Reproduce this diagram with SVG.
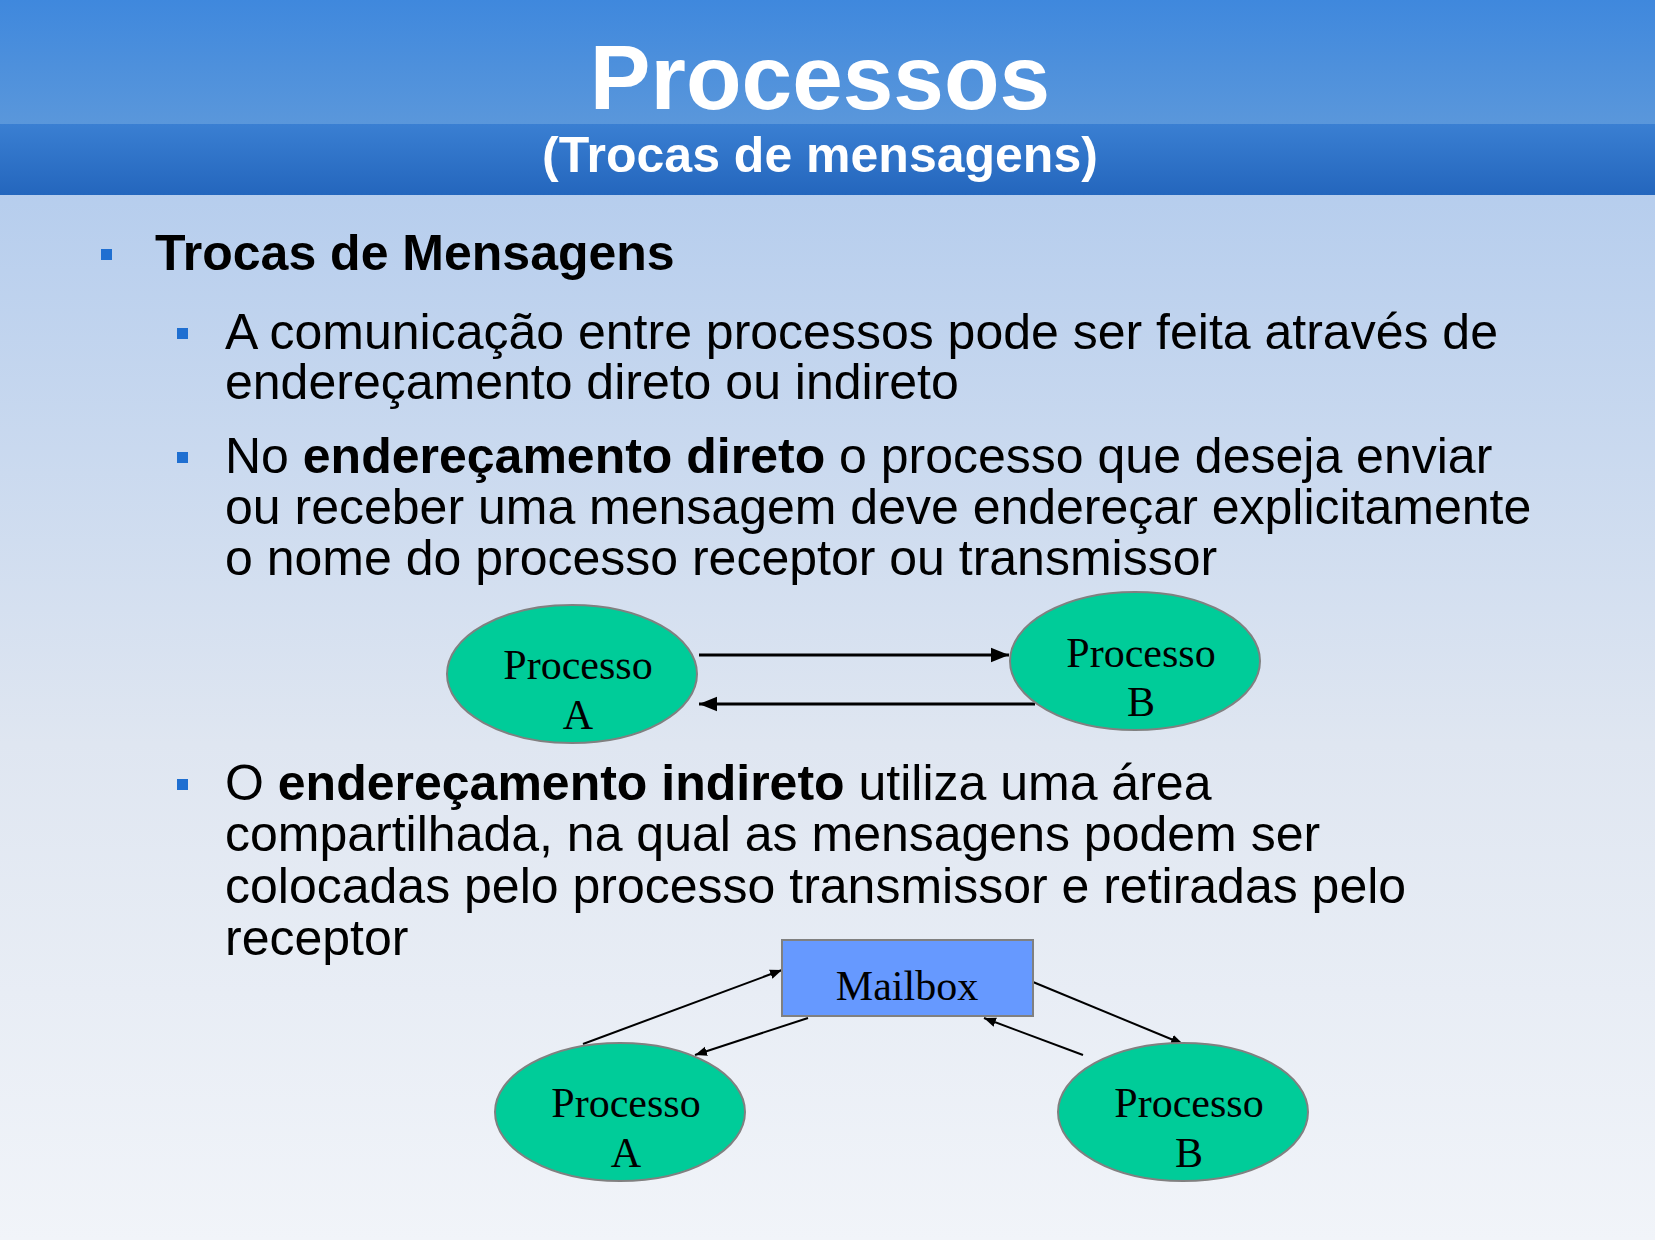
<svg xmlns="http://www.w3.org/2000/svg" width="1655" height="1240" viewBox="0 0 1655 1240">
<defs>
<linearGradient id="bg" x1="0" y1="0" x2="0" y2="1"><stop offset="0" stop-color="#a8c5ec"/><stop offset="0.6" stop-color="#dfe6f1"/><stop offset="1" stop-color="#f1f4f9"/></linearGradient>
<linearGradient id="h1" x1="0" y1="0" x2="0" y2="1"><stop offset="0" stop-color="#3f88dd"/><stop offset="1" stop-color="#5a97db"/></linearGradient>
<linearGradient id="h2" x1="0" y1="0" x2="0" y2="1"><stop offset="0" stop-color="#3a7fd2"/><stop offset="1" stop-color="#2466bd"/></linearGradient>
<marker id="ar" viewBox="0 0 10 10" refX="10" refY="5" markerWidth="6" markerHeight="6" orient="auto"><path d="M0,1 L10,5 L0,9 z" fill="#000"/></marker>
</defs>
<style>
.t{font-family:"Liberation Sans",Arial,sans-serif;fill:#000;font-size:50px}
.s{font-family:"Liberation Serif","Times New Roman",serif;fill:#000;font-size:42px;text-anchor:middle}
.e{fill:#00cc99;stroke:#808080;stroke-width:2}
.c{stroke:#000;fill:none;marker-end:url(#ar)}
.b{fill:#1f6fd1}
</style>
<rect width="1655" height="1240" fill="url(#bg)"/>
<rect width="1655" height="124" fill="url(#h1)"/>
<rect y="124" width="1655" height="71" fill="url(#h2)"/>
<text x="820" y="109" text-anchor="middle" font-family="Liberation Sans,Arial,sans-serif" font-weight="bold" font-size="91" fill="#fff">Processos</text>
<text x="820" y="172" text-anchor="middle" font-family="Liberation Sans,Arial,sans-serif" font-weight="bold" font-size="50" fill="#fff">(Trocas de mensagens)</text>
<rect class="b" x="101" y="249" width="11" height="11"/>
<text class="t" x="155" y="270" font-weight="bold">Trocas de Mensagens</text>
<rect class="b" x="177" y="328" width="11" height="11"/>
<text class="t" x="225" y="349">A comunicação entre processos pode ser feita através de</text>
<text class="t" x="225" y="399">endereçamento direto ou indireto</text>
<rect class="b" x="177" y="452" width="11" height="11"/>
<text class="t" x="225" y="473">No <tspan font-weight="bold">endereçamento direto</tspan> o processo que deseja enviar</text>
<text class="t" x="225" y="524">ou receber uma mensagem deve endereçar explicitamente</text>
<text class="t" x="225" y="575">o nome do processo receptor ou transmissor</text>
<rect class="b" x="177" y="779" width="11" height="11"/>
<text class="t" x="225" y="800">O <tspan font-weight="bold">endereçamento indireto</tspan> utiliza uma área</text>
<text class="t" x="225" y="851">compartilhada, na qual as mensagens podem ser</text>
<text class="t" x="225" y="903">colocadas pelo processo transmissor e retiradas pelo</text>
<text class="t" x="225" y="955">receptor</text>
<g id="connectors">
<line class="c" x1="699" y1="655" x2="1009" y2="655" stroke-width="3"/>
<line class="c" x1="1035" y1="704" x2="699" y2="704" stroke-width="3"/>
<line class="c" x1="583" y1="1044" x2="782" y2="970" stroke-width="2"/>
<line class="c" x1="808" y1="1018" x2="695" y2="1055" stroke-width="2"/>
<line class="c" x1="1033" y1="982" x2="1183" y2="1044" stroke-width="2"/>
<line class="c" x1="1083" y1="1055" x2="984" y2="1018" stroke-width="2"/>
</g>
<g id="pa1"><ellipse class="e" cx="572" cy="674" rx="125" ry="69"/><text class="s" x="578" y="679">Processo</text><text class="s" x="578" y="729">A</text></g>
<g id="pb1"><ellipse class="e" cx="1135" cy="661" rx="125" ry="69"/><text class="s" x="1141" y="667">Processo</text><text class="s" x="1141" y="716">B</text></g>
<g id="mailbox"><rect x="782" y="940" width="251" height="76" fill="#6699ff" stroke="#808080" stroke-width="2"/><text class="s" x="907" y="1000" font-size="62">Mailbox</text></g>
<g id="pa2"><ellipse class="e" cx="620" cy="1112" rx="125" ry="69"/><text class="s" x="626" y="1117">Processo</text><text class="s" x="626" y="1167">A</text></g>
<g id="pb2"><ellipse class="e" cx="1183" cy="1112" rx="125" ry="69"/><text class="s" x="1189" y="1117">Processo</text><text class="s" x="1189" y="1167">B</text></g>
</svg>
